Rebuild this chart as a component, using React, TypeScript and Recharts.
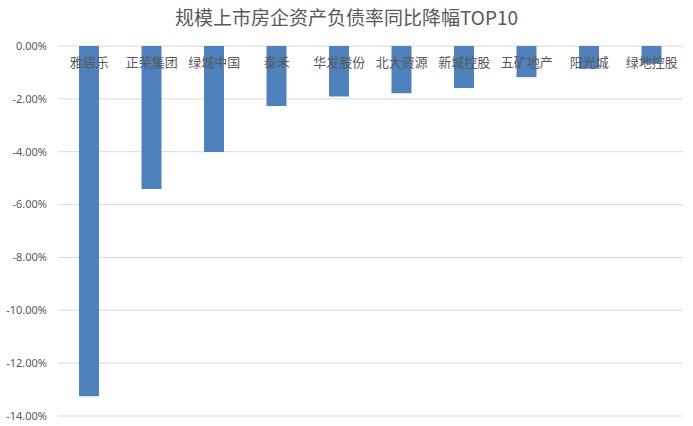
import React from "react";
import { BarChart, Bar, XAxis, YAxis, CartesianGrid } from "recharts";

const categories = ["雅居乐", "正荣集团", "绿城中国", "泰禾", "华发股份", "北大资源", "新城控股", "五矿地产", "阳光城", "绿地控股"];
const declines = [-13.25, -5.41, -4.01, -2.27, -1.91, -1.79, -1.59, -1.18, -0.86, -0.67];
const yTicks = [0, -2, -4, -6, -8, -10, -12, -14];
const title = "规模上市房企资产负债率同比降幅TOP10";

const data = categories.map((name, i) => ({ name, value: declines[i] }));

const CategoryTick = (props: any) => {
  const { x, y, payload } = props;
  return (
    <text x={x} y={y} dy={29} textAnchor="middle" fontSize={13} fill="#595959" fontFamily="'Noto Sans CJK SC', sans-serif">
      {payload.value}
    </text>
  );
};

export default function App() {
  return (
    <div style={{ position: "absolute", left: 0, top: 0, width: 693, height: 426, background: "#fff" }}>
      <div style={{ position: "absolute", left: 0, top: 4, width: 693, textAlign: "center", fontSize: 19, color: "#595959", fontFamily: "'Noto Sans CJK SC', sans-serif", lineHeight: "26px" }}>
        {title}
      </div>
      <BarChart width={693} height={426} data={data} margin={{ top: 45, right: 10, bottom: 10, left: 0 }}>
        <CartesianGrid vertical={false} stroke="#d9d9d9" />
        <Bar dataKey="value" fill="#4f81bd" barSize={20} isAnimationActive={false} />
        <XAxis dataKey="name" orientation="top" height={1} axisLine={false} tickLine={false} tick={<CategoryTick />} interval={0} />
        <YAxis
          domain={[-14, 0]}
          ticks={yTicks}
          width={58}
          axisLine={false}
          tickLine={false}
          tickMargin={5}
          tick={{ fontSize: 11, fill: "#595959", fontFamily: "'Noto Sans', sans-serif" }}
          tickFormatter={(v: number) => `${v === 0 ? "0.00" : v.toFixed(2)}%`}
          interval={0}
        />
      </BarChart>
    </div>
  );
}
